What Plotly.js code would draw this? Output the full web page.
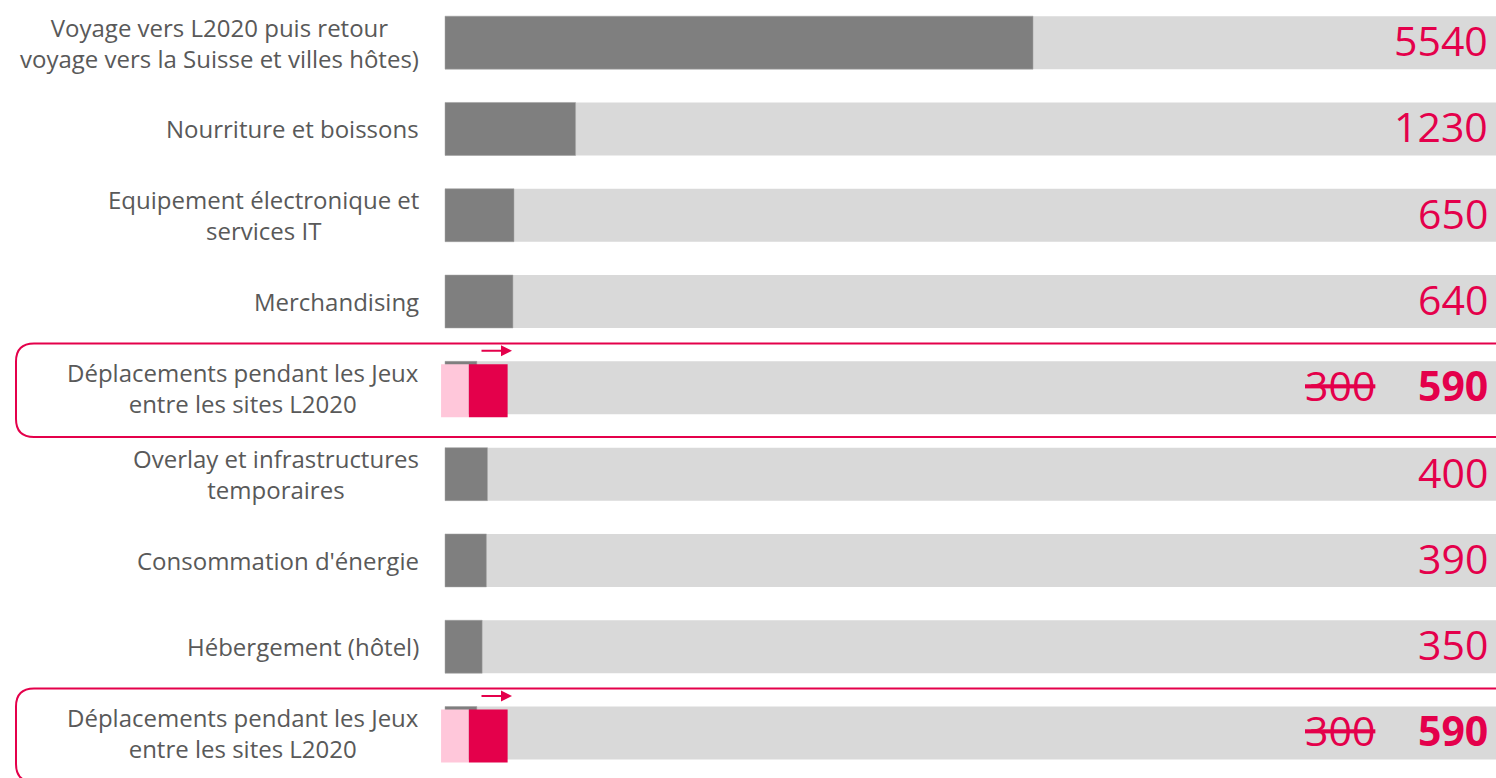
<!DOCTYPE html>
<html>
<head>
<meta charset="utf-8">
<script src="https://cdn.plot.ly/plotly-3.0.1.min.js"></script>
<style>
html,body{margin:0;padding:0;background:#fff;}
#chart{width:1496px;height:778px;}
</style>
</head>
<body>
<div id="chart"></div>
<script>
// ---- data ----
var categories = [
  "Voyage vers L2020 puis retour<br>voyage vers la Suisse et villes hôtes)",
  "Nourriture et boissons",
  "Equipement électronique et<br>services IT",
  "Merchandising",
  "Déplacements pendant les Jeux<br>entre les sites L2020",
  "Overlay et infrastructures<br>temporaires",
  "Consommation d'énergie",
  "Hébergement (hôtel)",
  "Déplacements pendant les Jeux<br>entre les sites L2020"
];
var values = [5540, 1230, 650, 640, 300, 400, 390, 350, 300];
var revisedValues = [null, null, null, null, 590, null, null, null, 590];
var pinkBase = [null, null, null, null, -37, null, null, null, -37];
var pinkValues = [null, null, null, null, 262, null, null, null, 262];
var backgroundMax = 9902;

// ---- styling ----
var RED = "#E4004B";
var PINK = "#FFC7DA";
var DARK = "#7F7F7F";
var LIGHT = "#D9D9D9";
var FONT = "Open Sans, sans-serif";

var pos = categories.map(function(_, i){ return i; });
var W = 1496, H = 778, L = 441;
var xMin = -37.7;
var BW = 0.614;
var shiftY = 0.035;

var bg = {
  type: "bar", orientation: "h", y: pos,
  x: pos.map(function(){ return backgroundMax; }),
  width: BW, marker: {color: LIGHT}, hoverinfo: "skip", showlegend: false
};
var main = {
  type: "bar", orientation: "h", y: pos, x: values,
  width: BW, marker: {color: DARK, line: {color: "#A6A6A6", width: 0.5}}, showlegend: false
};
var hlIdx = [], hlY = [], redBase = [], redLen = [], pB = [], pL = [];
revisedValues.forEach(function(v, i){
  if (v !== null) {
    hlIdx.push(i); hlY.push(i);
    redBase.push(pinkBase[i] + pinkValues[i]);
    redLen.push(v - (pinkBase[i] + pinkValues[i]));
    pB.push(pinkBase[i]); pL.push(pinkValues[i]);
  }
});
var pink = {
  type: "bar", orientation: "h", y: hlY, x: pL, base: pB,
  width: BW, offset: -BW/2 + shiftY, marker: {color: PINK}, showlegend: false
};
var red = {
  type: "bar", orientation: "h", y: hlY, x: redLen, base: redBase,
  width: BW, offset: -BW/2 + shiftY, marker: {color: RED}, showlegend: false
};

function px(x){ return (x - L) / (W - L); }

var annotations = [];
categories.forEach(function(c, i){
  annotations.push({
    xref: "paper", yref: "y", x: px(421), y: i, xanchor: "right", yanchor: "middle",
    text: c, align: "center", showarrow: false,
    font: {family: FONT, size: 24, color: "#595959"}
  });
  var label;
  if (revisedValues[i] !== null) {
    label = "<s>" + values[i] + "</s>    <b>" + revisedValues[i] + "</b>";
  } else {
    label = String(values[i]);
  }
  annotations.push({
    xref: "paper", yref: "y", x: px(1490), y: i - 0.03, xanchor: "right", yanchor: "middle",
    text: label, showarrow: false,
    font: {family: FONT, size: 41, color: RED}
  });
});
// arrows above revised bars
hlIdx.forEach(function(i){
  annotations.push({
    xref: "paper", yref: "y", x: px(512), y: i - 0.43,
    ax: -32, ay: 0, text: "", showarrow: true,
    arrowcolor: RED, arrowwidth: 2, arrowhead: 2, arrowsize: 1.1
  });
});

// rounded highlight boxes
var shapes = [];
function roundBox(yTopPx, yBotPx){
  var x0 = px(16), x1 = px(1520), r = 18;
  var rx = r / (W - L);
  var ry = r / H;
  var yt = 1 - yTopPx / H, yb = 1 - yBotPx / H;
  var p = "M " + x1 + "," + yt +
    " L " + (x0 + rx) + "," + yt +
    " Q " + x0 + "," + yt + " " + x0 + "," + (yt - ry) +
    " L " + x0 + "," + (yb + ry) +
    " Q " + x0 + "," + yb + " " + (x0 + rx) + "," + yb +
    " L " + x1 + "," + yb;
  return {type: "path", xref: "paper", yref: "paper", path: p,
          line: {color: RED, width: 2}, layer: "above"};
}
shapes.push(roundBox(343.5, 437));
shapes.push(roundBox(688.5, 782));

var layout = {
  width: W, height: H,
  margin: {l: L, r: 0, t: 0, b: 0},
  paper_bgcolor: "#fff", plot_bgcolor: "#fff",
  barmode: "overlay",
  showlegend: false,
  xaxis: {range: [xMin, backgroundMax], visible: false, fixedrange: true},
  yaxis: {range: [8.521, -0.494], visible: false, fixedrange: true},
  annotations: annotations,
  shapes: shapes
};

Plotly.newPlot("chart", [bg, main, pink, red], layout, {displayModeBar: false, staticPlot: true});
</script>
</body>
</html>
